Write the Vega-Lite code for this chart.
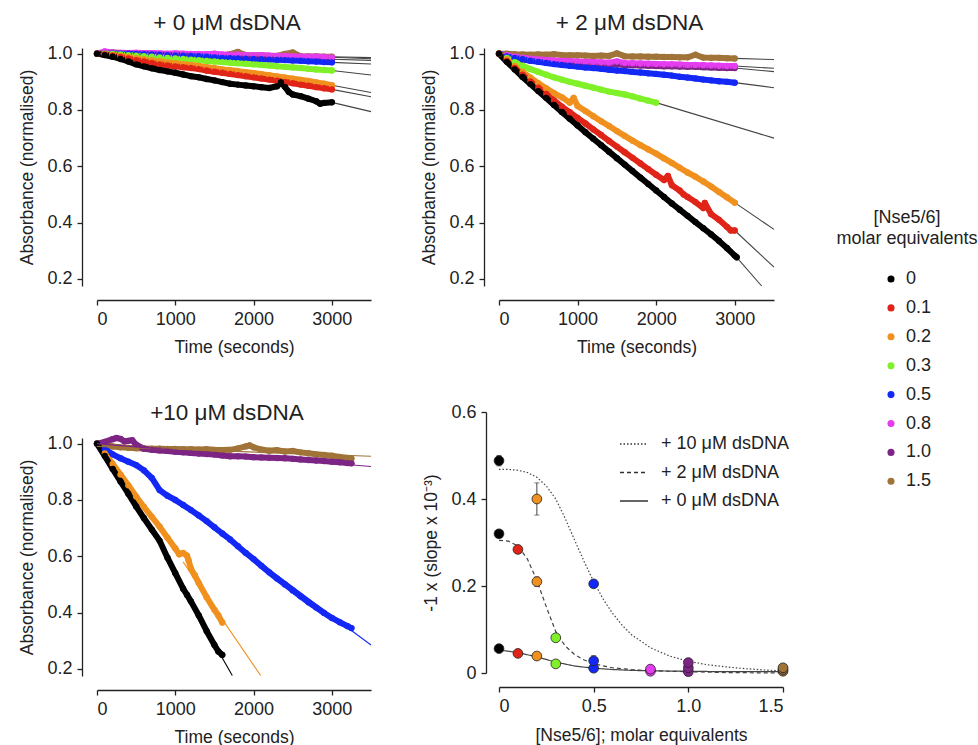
{
"$schema": "https://vega.github.io/schema/vega-lite/v6.json",
"background": "white",
"padding": {"left": 18, "top": 12, "right": 180, "bottom": 0},
"config": {
  "font": "Liberation Sans",
  "view": {"stroke": null},
  "axis": {"grid": false, "domainColor": "#222", "domainWidth": 1.3, "tickColor": "#222", "tickWidth": 1.3, "tickSize": 5, "labelFontSize": 18, "labelColor": "#222", "titleFontSize": 17.5, "titleFontWeight": "normal", "titleColor": "#222", "labelPadding": 5},
  "title": {"fontSize": 22.5, "fontWeight": "normal", "color": "#222", "anchor": "middle", "frame": "group", "offset": 10, "dx": -7},
  "legend": {"labelFontSize": 18, "labelColor": "#222", "titleColor": "#222"}
},
"datasets": {
"p1": [
{"c":"1.5","t":0,"v":1},{"c":"1.5","t":100,"v":1},{"c":"1.5","t":200,"v":1.004},{"c":"1.5","t":300,"v":1.002},{"c":"1.5","t":400,"v":1},{"c":"1.5","t":500,"v":1.001},{"c":"1.5","t":600,"v":0.999},{"c":"1.5","t":700,"v":0.998},{"c":"1.5","t":800,"v":0.998},{"c":"1.5","t":900,"v":0.997},{"c":"1.5","t":1000,"v":0.997},{"c":"1.5","t":1100,"v":0.996},{"c":"1.5","t":1200,"v":0.996},{"c":"1.5","t":1300,"v":0.995},{"c":"1.5","t":1400,"v":0.995},{"c":"1.5","t":1500,"v":0.994},{"c":"1.5","t":1600,"v":0.994},{"c":"1.5","t":1700,"v":0.998},{"c":"1.5","t":1800,"v":1.006},{"c":"1.5","t":1900,"v":0.995},{"c":"1.5","t":2000,"v":0.993},{"c":"1.5","t":2100,"v":0.993},{"c":"1.5","t":2200,"v":0.992},{"c":"1.5","t":2300,"v":0.992},{"c":"1.5","t":2400,"v":0.999},{"c":"1.5","t":2500,"v":1.004},{"c":"1.5","t":2600,"v":0.991},{"c":"1.5","t":2700,"v":0.99},{"c":"1.5","t":2800,"v":0.99},{"c":"1.5","t":2900,"v":0.989},{"c":"1.5","t":3000,"v":0.989},
{"c":"1.0","t":0,"v":1},{"c":"1.0","t":100,"v":1.002},{"c":"1.0","t":200,"v":1.002},{"c":"1.0","t":300,"v":1.001},{"c":"1.0","t":400,"v":1},{"c":"1.0","t":500,"v":0.999},{"c":"1.0","t":600,"v":0.998},{"c":"1.0","t":700,"v":0.997},{"c":"1.0","t":800,"v":0.996},{"c":"1.0","t":900,"v":0.995},{"c":"1.0","t":1000,"v":0.994},{"c":"1.0","t":1100,"v":0.993},{"c":"1.0","t":1200,"v":0.993},{"c":"1.0","t":1300,"v":0.992},{"c":"1.0","t":1400,"v":0.991},{"c":"1.0","t":1500,"v":0.99},{"c":"1.0","t":1600,"v":0.989},{"c":"1.0","t":1700,"v":0.989},{"c":"1.0","t":1800,"v":0.988},{"c":"1.0","t":1900,"v":0.987},{"c":"1.0","t":2000,"v":0.986},{"c":"1.0","t":2100,"v":0.986},{"c":"1.0","t":2200,"v":0.985},{"c":"1.0","t":2300,"v":0.984},{"c":"1.0","t":2400,"v":0.984},{"c":"1.0","t":2500,"v":0.983},{"c":"1.0","t":2600,"v":0.982},{"c":"1.0","t":2700,"v":0.982},{"c":"1.0","t":2800,"v":0.981},{"c":"1.0","t":2900,"v":0.98},{"c":"1.0","t":3000,"v":0.98},
{"c":"0.8","t":0,"v":1},{"c":"0.8","t":100,"v":1.008},{"c":"0.8","t":200,"v":1.004},{"c":"0.8","t":300,"v":1.003},{"c":"0.8","t":400,"v":1.002},{"c":"0.8","t":500,"v":1.003},{"c":"0.8","t":600,"v":1.002},{"c":"0.8","t":700,"v":1.002},{"c":"0.8","t":800,"v":1.001},{"c":"0.8","t":900,"v":1},{"c":"0.8","t":1000,"v":1.001},{"c":"0.8","t":1100,"v":1},{"c":"0.8","t":1200,"v":0.999},{"c":"0.8","t":1300,"v":0.999},{"c":"0.8","t":1400,"v":0.998},{"c":"0.8","t":1500,"v":1},{"c":"0.8","t":1600,"v":0.997},{"c":"0.8","t":1700,"v":0.996},{"c":"0.8","t":1800,"v":0.997},{"c":"0.8","t":1900,"v":0.995},{"c":"0.8","t":2000,"v":0.994},{"c":"0.8","t":2100,"v":0.995},{"c":"0.8","t":2200,"v":0.993},{"c":"0.8","t":2300,"v":0.992},{"c":"0.8","t":2400,"v":0.993},{"c":"0.8","t":2500,"v":0.991},{"c":"0.8","t":2600,"v":0.99},{"c":"0.8","t":2700,"v":0.989},{"c":"0.8","t":2800,"v":0.99},{"c":"0.8","t":2900,"v":0.988},{"c":"0.8","t":3000,"v":0.987},
{"c":"0.5","t":0,"v":1},{"c":"0.5","t":100,"v":1},{"c":"0.5","t":200,"v":1.001},{"c":"0.5","t":300,"v":1},{"c":"0.5","t":400,"v":1},{"c":"0.5","t":500,"v":0.999},{"c":"0.5","t":600,"v":0.998},{"c":"0.5","t":700,"v":0.997},{"c":"0.5","t":800,"v":0.996},{"c":"0.5","t":900,"v":0.995},{"c":"0.5","t":1000,"v":0.994},{"c":"0.5","t":1100,"v":0.993},{"c":"0.5","t":1200,"v":0.992},{"c":"0.5","t":1300,"v":0.991},{"c":"0.5","t":1400,"v":0.989},{"c":"0.5","t":1500,"v":0.987},{"c":"0.5","t":1600,"v":0.985},{"c":"0.5","t":1700,"v":0.984},{"c":"0.5","t":1800,"v":0.983},{"c":"0.5","t":1900,"v":0.982},{"c":"0.5","t":2000,"v":0.981},{"c":"0.5","t":2100,"v":0.98},{"c":"0.5","t":2200,"v":0.979},{"c":"0.5","t":2300,"v":0.978},{"c":"0.5","t":2400,"v":0.977},{"c":"0.5","t":2500,"v":0.976},{"c":"0.5","t":2600,"v":0.975},{"c":"0.5","t":2700,"v":0.973},{"c":"0.5","t":2800,"v":0.972},{"c":"0.5","t":2900,"v":0.97},{"c":"0.5","t":3000,"v":0.969},
{"c":"0.3","t":0,"v":1},{"c":"0.3","t":100,"v":1},{"c":"0.3","t":200,"v":0.999},{"c":"0.3","t":300,"v":0.997},{"c":"0.3","t":400,"v":0.995},{"c":"0.3","t":500,"v":0.993},{"c":"0.3","t":600,"v":0.991},{"c":"0.3","t":700,"v":0.989},{"c":"0.3","t":800,"v":0.987},{"c":"0.3","t":900,"v":0.985},{"c":"0.3","t":1000,"v":0.983},{"c":"0.3","t":1100,"v":0.981},{"c":"0.3","t":1200,"v":0.979},{"c":"0.3","t":1300,"v":0.977},{"c":"0.3","t":1400,"v":0.974},{"c":"0.3","t":1500,"v":0.972},{"c":"0.3","t":1600,"v":0.97},{"c":"0.3","t":1700,"v":0.968},{"c":"0.3","t":1800,"v":0.966},{"c":"0.3","t":1900,"v":0.964},{"c":"0.3","t":2000,"v":0.962},{"c":"0.3","t":2100,"v":0.96},{"c":"0.3","t":2200,"v":0.958},{"c":"0.3","t":2300,"v":0.955},{"c":"0.3","t":2400,"v":0.953},{"c":"0.3","t":2500,"v":0.951},{"c":"0.3","t":2600,"v":0.949},{"c":"0.3","t":2700,"v":0.946},{"c":"0.3","t":2800,"v":0.944},{"c":"0.3","t":2900,"v":0.942},{"c":"0.3","t":3000,"v":0.94},
{"c":"0.2","t":0,"v":1},{"c":"0.2","t":100,"v":0.998},{"c":"0.2","t":200,"v":0.995},{"c":"0.2","t":300,"v":0.992},{"c":"0.2","t":400,"v":0.988},{"c":"0.2","t":500,"v":0.984},{"c":"0.2","t":600,"v":0.98},{"c":"0.2","t":700,"v":0.977},{"c":"0.2","t":800,"v":0.973},{"c":"0.2","t":900,"v":0.969},{"c":"0.2","t":1000,"v":0.966},{"c":"0.2","t":1100,"v":0.963},{"c":"0.2","t":1200,"v":0.96},{"c":"0.2","t":1300,"v":0.956},{"c":"0.2","t":1400,"v":0.952},{"c":"0.2","t":1500,"v":0.948},{"c":"0.2","t":1600,"v":0.944},{"c":"0.2","t":1700,"v":0.941},{"c":"0.2","t":1800,"v":0.938},{"c":"0.2","t":1900,"v":0.934},{"c":"0.2","t":2000,"v":0.931},{"c":"0.2","t":2100,"v":0.927},{"c":"0.2","t":2200,"v":0.923},{"c":"0.2","t":2300,"v":0.919},{"c":"0.2","t":2400,"v":0.915},{"c":"0.2","t":2500,"v":0.911},{"c":"0.2","t":2600,"v":0.907},{"c":"0.2","t":2700,"v":0.903},{"c":"0.2","t":2800,"v":0.898},{"c":"0.2","t":2900,"v":0.893},{"c":"0.2","t":3000,"v":0.888},
{"c":"0.1","t":0,"v":1},{"c":"0.1","t":100,"v":0.997},{"c":"0.1","t":200,"v":0.993},{"c":"0.1","t":300,"v":0.988},{"c":"0.1","t":400,"v":0.983},{"c":"0.1","t":500,"v":0.977},{"c":"0.1","t":600,"v":0.972},{"c":"0.1","t":700,"v":0.967},{"c":"0.1","t":800,"v":0.962},{"c":"0.1","t":900,"v":0.958},{"c":"0.1","t":1000,"v":0.955},{"c":"0.1","t":1100,"v":0.952},{"c":"0.1","t":1200,"v":0.949},{"c":"0.1","t":1300,"v":0.945},{"c":"0.1","t":1400,"v":0.94},{"c":"0.1","t":1500,"v":0.936},{"c":"0.1","t":1600,"v":0.932},{"c":"0.1","t":1700,"v":0.928},{"c":"0.1","t":1800,"v":0.924},{"c":"0.1","t":1900,"v":0.92},{"c":"0.1","t":2000,"v":0.916},{"c":"0.1","t":2100,"v":0.912},{"c":"0.1","t":2200,"v":0.908},{"c":"0.1","t":2300,"v":0.904},{"c":"0.1","t":2400,"v":0.9},{"c":"0.1","t":2500,"v":0.895},{"c":"0.1","t":2600,"v":0.89},{"c":"0.1","t":2700,"v":0.886},{"c":"0.1","t":2800,"v":0.881},{"c":"0.1","t":2900,"v":0.877},{"c":"0.1","t":3000,"v":0.873},
{"c":"0","t":0,"v":1},{"c":"0","t":100,"v":0.995},{"c":"0","t":200,"v":0.989},{"c":"0","t":300,"v":0.981},{"c":"0","t":400,"v":0.972},{"c":"0","t":500,"v":0.962},{"c":"0","t":600,"v":0.955},{"c":"0","t":700,"v":0.948},{"c":"0","t":800,"v":0.942},{"c":"0","t":900,"v":0.937},{"c":"0","t":1000,"v":0.932},{"c":"0","t":1100,"v":0.926},{"c":"0","t":1200,"v":0.92},{"c":"0","t":1300,"v":0.916},{"c":"0","t":1400,"v":0.91},{"c":"0","t":1500,"v":0.905},{"c":"0","t":1600,"v":0.899},{"c":"0","t":1700,"v":0.893},{"c":"0","t":1800,"v":0.89},{"c":"0","t":1900,"v":0.887},{"c":"0","t":2000,"v":0.884},{"c":"0","t":2100,"v":0.881},{"c":"0","t":2200,"v":0.878},{"c":"0","t":2300,"v":0.884},{"c":"0","t":2350,"v":0.898},{"c":"0","t":2400,"v":0.882},{"c":"0","t":2450,"v":0.864},{"c":"0","t":2500,"v":0.855},{"c":"0","t":2600,"v":0.849},{"c":"0","t":2700,"v":0.84},{"c":"0","t":2800,"v":0.831},{"c":"0","t":2850,"v":0.822},{"c":"0","t":2900,"v":0.825},{"c":"0","t":3000,"v":0.827}
],
"f1": [
{"c":"1.5","t":3000,"v":0.989},{"c":"1.5","t":3500,"v":0.986},
{"c":"1.0","t":3000,"v":0.98},{"c":"1.0","t":3500,"v":0.976},
{"c":"0.8","t":3000,"v":0.987},{"c":"0.8","t":3500,"v":0.982},
{"c":"0.5","t":3000,"v":0.969},{"c":"0.5","t":3500,"v":0.963},
{"c":"0.3","t":3000,"v":0.94},{"c":"0.3","t":3500,"v":0.924},
{"c":"0.2","t":3000,"v":0.888},{"c":"0.2","t":3500,"v":0.862},
{"c":"0.1","t":3000,"v":0.873},{"c":"0.1","t":3500,"v":0.847},
{"c":"0","t":3000,"v":0.827},{"c":"0","t":3500,"v":0.794}
],
"p2": [
{"c":"1.5","t":0,"v":1},{"c":"1.5","t":100,"v":1},{"c":"1.5","t":200,"v":0.998},{"c":"1.5","t":300,"v":0.997},{"c":"1.5","t":400,"v":0.996},{"c":"1.5","t":500,"v":0.997},{"c":"1.5","t":600,"v":0.996},{"c":"1.5","t":700,"v":0.998},{"c":"1.5","t":800,"v":0.995},{"c":"1.5","t":900,"v":0.994},{"c":"1.5","t":1000,"v":0.994},{"c":"1.5","t":1100,"v":0.993},{"c":"1.5","t":1200,"v":0.992},{"c":"1.5","t":1300,"v":0.993},{"c":"1.5","t":1400,"v":0.992},{"c":"1.5","t":1500,"v":1.001},{"c":"1.5","t":1600,"v":0.991},{"c":"1.5","t":1700,"v":0.99},{"c":"1.5","t":1800,"v":0.99},{"c":"1.5","t":1900,"v":0.989},{"c":"1.5","t":2000,"v":0.989},{"c":"1.5","t":2100,"v":0.988},{"c":"1.5","t":2200,"v":0.988},{"c":"1.5","t":2300,"v":0.987},{"c":"1.5","t":2400,"v":0.987},{"c":"1.5","t":2500,"v":0.996},{"c":"1.5","t":2600,"v":0.986},{"c":"1.5","t":2700,"v":0.985},{"c":"1.5","t":2800,"v":0.985},{"c":"1.5","t":2900,"v":0.984},{"c":"1.5","t":3000,"v":0.983},
{"c":"1.0","t":0,"v":1},{"c":"1.0","t":100,"v":0.99},{"c":"1.0","t":200,"v":0.984},{"c":"1.0","t":300,"v":0.979},{"c":"1.0","t":400,"v":0.976},{"c":"1.0","t":500,"v":0.973},{"c":"1.0","t":600,"v":0.971},{"c":"1.0","t":700,"v":0.969},{"c":"1.0","t":800,"v":0.968},{"c":"1.0","t":900,"v":0.967},{"c":"1.0","t":1000,"v":0.965},{"c":"1.0","t":1100,"v":0.964},{"c":"1.0","t":1200,"v":0.963},{"c":"1.0","t":1300,"v":0.962},{"c":"1.0","t":1400,"v":0.961},{"c":"1.0","t":1500,"v":0.962},{"c":"1.0","t":1600,"v":0.96},{"c":"1.0","t":1700,"v":0.959},{"c":"1.0","t":1800,"v":0.958},{"c":"1.0","t":1900,"v":0.957},{"c":"1.0","t":2000,"v":0.956},{"c":"1.0","t":2100,"v":0.955},{"c":"1.0","t":2200,"v":0.955},{"c":"1.0","t":2300,"v":0.954},{"c":"1.0","t":2400,"v":0.953},{"c":"1.0","t":2500,"v":0.953},{"c":"1.0","t":2600,"v":0.952},{"c":"1.0","t":2700,"v":0.951},{"c":"1.0","t":2800,"v":0.95},{"c":"1.0","t":2900,"v":0.949},{"c":"1.0","t":3000,"v":0.949},
{"c":"0.8","t":0,"v":1},{"c":"0.8","t":100,"v":0.995},{"c":"0.8","t":200,"v":0.99},{"c":"0.8","t":300,"v":0.986},{"c":"0.8","t":400,"v":0.983},{"c":"0.8","t":500,"v":0.98},{"c":"0.8","t":600,"v":0.978},{"c":"0.8","t":700,"v":0.976},{"c":"0.8","t":800,"v":0.975},{"c":"0.8","t":900,"v":0.974},{"c":"0.8","t":1000,"v":0.972},{"c":"0.8","t":1100,"v":0.971},{"c":"0.8","t":1200,"v":0.97},{"c":"0.8","t":1300,"v":0.969},{"c":"0.8","t":1400,"v":0.968},{"c":"0.8","t":1500,"v":0.972},{"c":"0.8","t":1600,"v":0.967},{"c":"0.8","t":1700,"v":0.966},{"c":"0.8","t":1800,"v":0.965},{"c":"0.8","t":1900,"v":0.964},{"c":"0.8","t":2000,"v":0.963},{"c":"0.8","t":2100,"v":0.962},{"c":"0.8","t":2200,"v":0.962},{"c":"0.8","t":2300,"v":0.961},{"c":"0.8","t":2400,"v":0.96},{"c":"0.8","t":2500,"v":0.96},{"c":"0.8","t":2600,"v":0.959},{"c":"0.8","t":2700,"v":0.958},{"c":"0.8","t":2800,"v":0.957},{"c":"0.8","t":2900,"v":0.956},{"c":"0.8","t":3000,"v":0.956},
{"c":"0.5","t":0,"v":1},{"c":"0.5","t":100,"v":0.99},{"c":"0.5","t":200,"v":0.985},{"c":"0.5","t":300,"v":0.98},{"c":"0.5","t":400,"v":0.975},{"c":"0.5","t":500,"v":0.971},{"c":"0.5","t":600,"v":0.967},{"c":"0.5","t":700,"v":0.963},{"c":"0.5","t":800,"v":0.96},{"c":"0.5","t":900,"v":0.957},{"c":"0.5","t":1000,"v":0.954},{"c":"0.5","t":1100,"v":0.951},{"c":"0.5","t":1200,"v":0.949},{"c":"0.5","t":1300,"v":0.946},{"c":"0.5","t":1400,"v":0.943},{"c":"0.5","t":1500,"v":0.94},{"c":"0.5","t":1600,"v":0.938},{"c":"0.5","t":1700,"v":0.935},{"c":"0.5","t":1800,"v":0.933},{"c":"0.5","t":1900,"v":0.93},{"c":"0.5","t":2000,"v":0.928},{"c":"0.5","t":2100,"v":0.925},{"c":"0.5","t":2200,"v":0.922},{"c":"0.5","t":2300,"v":0.918},{"c":"0.5","t":2400,"v":0.915},{"c":"0.5","t":2500,"v":0.912},{"c":"0.5","t":2600,"v":0.908},{"c":"0.5","t":2700,"v":0.905},{"c":"0.5","t":2800,"v":0.902},{"c":"0.5","t":2900,"v":0.9},{"c":"0.5","t":3000,"v":0.897},
{"c":"0.3","t":0,"v":1},{"c":"0.3","t":100,"v":0.985},{"c":"0.3","t":200,"v":0.97},{"c":"0.3","t":300,"v":0.957},{"c":"0.3","t":400,"v":0.945},{"c":"0.3","t":500,"v":0.935},{"c":"0.3","t":600,"v":0.925},{"c":"0.3","t":700,"v":0.916},{"c":"0.3","t":800,"v":0.908},{"c":"0.3","t":900,"v":0.9},{"c":"0.3","t":1000,"v":0.893},{"c":"0.3","t":1100,"v":0.886},{"c":"0.3","t":1200,"v":0.879},{"c":"0.3","t":1300,"v":0.872},{"c":"0.3","t":1400,"v":0.865},{"c":"0.3","t":1500,"v":0.86},{"c":"0.3","t":1600,"v":0.855},{"c":"0.3","t":1700,"v":0.848},{"c":"0.3","t":1800,"v":0.84},{"c":"0.3","t":1900,"v":0.833},{"c":"0.3","t":2000,"v":0.826},
{"c":"0.2","t":0,"v":1},{"c":"0.2","t":100,"v":0.98},{"c":"0.2","t":200,"v":0.956},{"c":"0.2","t":300,"v":0.935},{"c":"0.2","t":400,"v":0.915},{"c":"0.2","t":500,"v":0.895},{"c":"0.2","t":600,"v":0.877},{"c":"0.2","t":700,"v":0.86},{"c":"0.2","t":800,"v":0.845},{"c":"0.2","t":900,"v":0.826},{"c":"0.2","t":950,"v":0.843},{"c":"0.2","t":1000,"v":0.814},{"c":"0.2","t":1100,"v":0.796},{"c":"0.2","t":1200,"v":0.778},{"c":"0.2","t":1300,"v":0.76},{"c":"0.2","t":1400,"v":0.743},{"c":"0.2","t":1500,"v":0.725},{"c":"0.2","t":1600,"v":0.708},{"c":"0.2","t":1700,"v":0.691},{"c":"0.2","t":1800,"v":0.675},{"c":"0.2","t":1900,"v":0.66},{"c":"0.2","t":2000,"v":0.645},{"c":"0.2","t":2100,"v":0.628},{"c":"0.2","t":2200,"v":0.612},{"c":"0.2","t":2300,"v":0.595},{"c":"0.2","t":2400,"v":0.578},{"c":"0.2","t":2500,"v":0.563},{"c":"0.2","t":2600,"v":0.546},{"c":"0.2","t":2700,"v":0.528},{"c":"0.2","t":2800,"v":0.509},{"c":"0.2","t":2900,"v":0.49},{"c":"0.2","t":3000,"v":0.471},
{"c":"0.1","t":0,"v":1},{"c":"0.1","t":100,"v":0.974},{"c":"0.1","t":200,"v":0.949},{"c":"0.1","t":300,"v":0.925},{"c":"0.1","t":400,"v":0.901},{"c":"0.1","t":500,"v":0.879},{"c":"0.1","t":600,"v":0.857},{"c":"0.1","t":700,"v":0.834},{"c":"0.1","t":800,"v":0.812},{"c":"0.1","t":900,"v":0.792},{"c":"0.1","t":1000,"v":0.772},{"c":"0.1","t":1100,"v":0.752},{"c":"0.1","t":1200,"v":0.731},{"c":"0.1","t":1300,"v":0.711},{"c":"0.1","t":1400,"v":0.69},{"c":"0.1","t":1500,"v":0.67},{"c":"0.1","t":1600,"v":0.65},{"c":"0.1","t":1700,"v":0.63},{"c":"0.1","t":1800,"v":0.61},{"c":"0.1","t":1900,"v":0.59},{"c":"0.1","t":2000,"v":0.57},{"c":"0.1","t":2100,"v":0.551},{"c":"0.1","t":2150,"v":0.566},{"c":"0.1","t":2200,"v":0.533},{"c":"0.1","t":2300,"v":0.514},{"c":"0.1","t":2350,"v":0.5},{"c":"0.1","t":2400,"v":0.491},{"c":"0.1","t":2500,"v":0.473},{"c":"0.1","t":2600,"v":0.452},{"c":"0.1","t":2620,"v":0.47},{"c":"0.1","t":2700,"v":0.43},{"c":"0.1","t":2800,"v":0.41},{"c":"0.1","t":2900,"v":0.385},{"c":"0.1","t":2950,"v":0.372},{"c":"0.1","t":3000,"v":0.372},
{"c":"0","t":0,"v":1},{"c":"0","t":100,"v":0.971},{"c":"0","t":200,"v":0.944},{"c":"0","t":300,"v":0.917},{"c":"0","t":400,"v":0.892},{"c":"0","t":500,"v":0.867},{"c":"0","t":600,"v":0.843},{"c":"0","t":700,"v":0.818},{"c":"0","t":800,"v":0.793},{"c":"0","t":900,"v":0.769},{"c":"0","t":1000,"v":0.745},{"c":"0","t":1100,"v":0.721},{"c":"0","t":1200,"v":0.698},{"c":"0","t":1300,"v":0.675},{"c":"0","t":1400,"v":0.652},{"c":"0","t":1500,"v":0.629},{"c":"0","t":1600,"v":0.606},{"c":"0","t":1700,"v":0.583},{"c":"0","t":1800,"v":0.56},{"c":"0","t":1900,"v":0.537},{"c":"0","t":2000,"v":0.514},{"c":"0","t":2100,"v":0.491},{"c":"0","t":2200,"v":0.468},{"c":"0","t":2300,"v":0.446},{"c":"0","t":2400,"v":0.424},{"c":"0","t":2500,"v":0.402},{"c":"0","t":2600,"v":0.38},{"c":"0","t":2700,"v":0.358},{"c":"0","t":2800,"v":0.335},{"c":"0","t":2900,"v":0.31},{"c":"0","t":3000,"v":0.283},{"c":"0","t":3025,"v":0.277}
],
"f2": [
{"c":"1.5","t":3000,"v":0.983},{"c":"1.5","t":3500,"v":0.979},
{"c":"1.0","t":3000,"v":0.949},{"c":"1.0","t":3500,"v":0.936},
{"c":"0.8","t":3000,"v":0.956},{"c":"0.8","t":3500,"v":0.948},
{"c":"0.5","t":3000,"v":0.897},{"c":"0.5","t":3500,"v":0.879},
{"c":"0.3","t":2000,"v":0.826},{"c":"0.3","t":3500,"v":0.7},
{"c":"0.2","t":3000,"v":0.471},{"c":"0.2","t":3500,"v":0.376},
{"c":"0.1","t":3000,"v":0.372},{"c":"0.1","t":3500,"v":0.242},
{"c":"0","t":3025,"v":0.277},{"c":"0","t":3343,"v":0.175}
],
"p3": [
{"c":"1.5","t":0,"v":1},{"c":"1.5","t":100,"v":0.995},{"c":"1.5","t":200,"v":0.99},{"c":"1.5","t":300,"v":0.987},{"c":"1.5","t":400,"v":0.985},{"c":"1.5","t":500,"v":0.984},{"c":"1.5","t":600,"v":0.983},{"c":"1.5","t":700,"v":0.982},{"c":"1.5","t":800,"v":0.982},{"c":"1.5","t":900,"v":0.981},{"c":"1.5","t":1000,"v":0.981},{"c":"1.5","t":1100,"v":0.98},{"c":"1.5","t":1200,"v":0.98},{"c":"1.5","t":1300,"v":0.979},{"c":"1.5","t":1400,"v":0.98},{"c":"1.5","t":1500,"v":0.978},{"c":"1.5","t":1600,"v":0.977},{"c":"1.5","t":1700,"v":0.978},{"c":"1.5","t":1800,"v":0.983},{"c":"1.5","t":1900,"v":0.99},{"c":"1.5","t":1950,"v":0.994},{"c":"1.5","t":2000,"v":0.987},{"c":"1.5","t":2100,"v":0.979},{"c":"1.5","t":2200,"v":0.975},{"c":"1.5","t":2300,"v":0.977},{"c":"1.5","t":2400,"v":0.972},{"c":"1.5","t":2500,"v":0.974},{"c":"1.5","t":2600,"v":0.969},{"c":"1.5","t":2700,"v":0.966},{"c":"1.5","t":2800,"v":0.962},{"c":"1.5","t":2900,"v":0.96},{"c":"1.5","t":3000,"v":0.957},{"c":"1.5","t":3100,"v":0.953},{"c":"1.5","t":3200,"v":0.949},{"c":"1.5","t":3250,"v":0.947},
{"c":"1.0","t":0,"v":1},{"c":"1.0","t":100,"v":1.006},{"c":"1.0","t":200,"v":1.016},{"c":"1.0","t":250,"v":1.02},{"c":"1.0","t":300,"v":1.017},{"c":"1.0","t":350,"v":1.008},{"c":"1.0","t":400,"v":1.01},{"c":"1.0","t":450,"v":1.012},{"c":"1.0","t":500,"v":0.996},{"c":"1.0","t":600,"v":0.982},{"c":"1.0","t":700,"v":0.978},{"c":"1.0","t":800,"v":0.976},{"c":"1.0","t":900,"v":0.974},{"c":"1.0","t":1000,"v":0.971},{"c":"1.0","t":1100,"v":0.969},{"c":"1.0","t":1200,"v":0.967},{"c":"1.0","t":1300,"v":0.965},{"c":"1.0","t":1400,"v":0.963},{"c":"1.0","t":1500,"v":0.961},{"c":"1.0","t":1600,"v":0.958},{"c":"1.0","t":1700,"v":0.955},{"c":"1.0","t":1800,"v":0.955},{"c":"1.0","t":1900,"v":0.954},{"c":"1.0","t":2000,"v":0.952},{"c":"1.0","t":2100,"v":0.951},{"c":"1.0","t":2200,"v":0.95},{"c":"1.0","t":2300,"v":0.949},{"c":"1.0","t":2400,"v":0.948},{"c":"1.0","t":2500,"v":0.946},{"c":"1.0","t":2600,"v":0.944},{"c":"1.0","t":2700,"v":0.942},{"c":"1.0","t":2800,"v":0.94},{"c":"1.0","t":2900,"v":0.938},{"c":"1.0","t":3000,"v":0.936},{"c":"1.0","t":3100,"v":0.934},{"c":"1.0","t":3200,"v":0.931},{"c":"1.0","t":3250,"v":0.93},
{"c":"0.5","t":0,"v":1},{"c":"0.5","t":100,"v":0.98},{"c":"0.5","t":200,"v":0.962},{"c":"0.5","t":300,"v":0.948},{"c":"0.5","t":400,"v":0.936},{"c":"0.5","t":500,"v":0.924},{"c":"0.5","t":600,"v":0.905},{"c":"0.5","t":700,"v":0.878},{"c":"0.5","t":800,"v":0.835},{"c":"0.5","t":900,"v":0.815},{"c":"0.5","t":1000,"v":0.8},{"c":"0.5","t":1100,"v":0.782},{"c":"0.5","t":1200,"v":0.764},{"c":"0.5","t":1300,"v":0.745},{"c":"0.5","t":1400,"v":0.725},{"c":"0.5","t":1500,"v":0.703},{"c":"0.5","t":1600,"v":0.681},{"c":"0.5","t":1700,"v":0.66},{"c":"0.5","t":1800,"v":0.636},{"c":"0.5","t":1900,"v":0.612},{"c":"0.5","t":2000,"v":0.59},{"c":"0.5","t":2100,"v":0.566},{"c":"0.5","t":2200,"v":0.543},{"c":"0.5","t":2300,"v":0.521},{"c":"0.5","t":2400,"v":0.5},{"c":"0.5","t":2500,"v":0.479},{"c":"0.5","t":2600,"v":0.458},{"c":"0.5","t":2700,"v":0.437},{"c":"0.5","t":2800,"v":0.418},{"c":"0.5","t":2900,"v":0.399},{"c":"0.5","t":3000,"v":0.381},{"c":"0.5","t":3100,"v":0.366},{"c":"0.5","t":3200,"v":0.352},{"c":"0.5","t":3250,"v":0.345},
{"c":"0.2","t":0,"v":1},{"c":"0.2","t":100,"v":0.965},{"c":"0.2","t":200,"v":0.928},{"c":"0.2","t":300,"v":0.89},{"c":"0.2","t":400,"v":0.852},{"c":"0.2","t":500,"v":0.812},{"c":"0.2","t":600,"v":0.775},{"c":"0.2","t":700,"v":0.74},{"c":"0.2","t":800,"v":0.705},{"c":"0.2","t":900,"v":0.666},{"c":"0.2","t":1000,"v":0.628},{"c":"0.2","t":1050,"v":0.607},{"c":"0.2","t":1100,"v":0.612},{"c":"0.2","t":1150,"v":0.602},{"c":"0.2","t":1170,"v":0.585},{"c":"0.2","t":1200,"v":0.556},{"c":"0.2","t":1250,"v":0.532},{"c":"0.2","t":1300,"v":0.505},{"c":"0.2","t":1400,"v":0.455},{"c":"0.2","t":1500,"v":0.41},{"c":"0.2","t":1550,"v":0.39},{"c":"0.2","t":1600,"v":0.365},
{"c":"0","t":0,"v":1},{"c":"0","t":100,"v":0.956},{"c":"0","t":200,"v":0.91},{"c":"0","t":300,"v":0.866},{"c":"0","t":400,"v":0.822},{"c":"0","t":500,"v":0.777},{"c":"0","t":600,"v":0.735},{"c":"0","t":700,"v":0.695},{"c":"0","t":800,"v":0.655},{"c":"0","t":900,"v":0.595},{"c":"0","t":1000,"v":0.54},{"c":"0","t":1100,"v":0.485},{"c":"0","t":1150,"v":0.463},{"c":"0","t":1200,"v":0.44},{"c":"0","t":1300,"v":0.39},{"c":"0","t":1400,"v":0.335},{"c":"0","t":1500,"v":0.285},{"c":"0","t":1550,"v":0.262},{"c":"0","t":1600,"v":0.25}
],
"f3": [
{"c":"1.5","t":0,"v":0.99},{"c":"1.5","t":3500,"v":0.955},
{"c":"1.0","t":0,"v":1},{"c":"1.0","t":3500,"v":0.919},
{"c":"0.5","t":1000,"v":0.8},{"c":"0.5","t":3500,"v":0.285},
{"c":"0.2","t":1100,"v":0.58},{"c":"0.2","t":2090,"v":0.177},
{"c":"0","t":1300,"v":0.385},{"c":"0","t":1728,"v":0.177}
],
"c4": [
{"g":"+ 10 μM dsDNA","x":0,"y":0.468},{"g":"+ 10 μM dsDNA","x":0.05,"y":0.468},{"g":"+ 10 μM dsDNA","x":0.1,"y":0.466},{"g":"+ 10 μM dsDNA","x":0.15,"y":0.461},{"g":"+ 10 μM dsDNA","x":0.2,"y":0.45},{"g":"+ 10 μM dsDNA","x":0.25,"y":0.43},{"g":"+ 10 μM dsDNA","x":0.3,"y":0.4},{"g":"+ 10 μM dsDNA","x":0.35,"y":0.355},{"g":"+ 10 μM dsDNA","x":0.4,"y":0.305},{"g":"+ 10 μM dsDNA","x":0.45,"y":0.256},{"g":"+ 10 μM dsDNA","x":0.5,"y":0.21},{"g":"+ 10 μM dsDNA","x":0.55,"y":0.17},{"g":"+ 10 μM dsDNA","x":0.6,"y":0.137},{"g":"+ 10 μM dsDNA","x":0.65,"y":0.11},{"g":"+ 10 μM dsDNA","x":0.7,"y":0.088},{"g":"+ 10 μM dsDNA","x":0.8,"y":0.058},{"g":"+ 10 μM dsDNA","x":0.9,"y":0.039},{"g":"+ 10 μM dsDNA","x":1.0,"y":0.027},{"g":"+ 10 μM dsDNA","x":1.1,"y":0.019},{"g":"+ 10 μM dsDNA","x":1.2,"y":0.014},{"g":"+ 10 μM dsDNA","x":1.3,"y":0.01},{"g":"+ 10 μM dsDNA","x":1.4,"y":0.007},{"g":"+ 10 μM dsDNA","x":1.5,"y":0.005},
{"g":"+ 2 μM dsDNA","x":0,"y":0.305},{"g":"+ 2 μM dsDNA","x":0.05,"y":0.303},{"g":"+ 2 μM dsDNA","x":0.1,"y":0.292},{"g":"+ 2 μM dsDNA","x":0.15,"y":0.262},{"g":"+ 2 μM dsDNA","x":0.2,"y":0.213},{"g":"+ 2 μM dsDNA","x":0.25,"y":0.152},{"g":"+ 2 μM dsDNA","x":0.3,"y":0.095},{"g":"+ 2 μM dsDNA","x":0.35,"y":0.062},{"g":"+ 2 μM dsDNA","x":0.4,"y":0.042},{"g":"+ 2 μM dsDNA","x":0.45,"y":0.03},{"g":"+ 2 μM dsDNA","x":0.5,"y":0.021},{"g":"+ 2 μM dsDNA","x":0.6,"y":0.012},{"g":"+ 2 μM dsDNA","x":0.7,"y":0.008},{"g":"+ 2 μM dsDNA","x":0.8,"y":0.005},{"g":"+ 2 μM dsDNA","x":1.0,"y":0.003},{"g":"+ 2 μM dsDNA","x":1.2,"y":0.001},{"g":"+ 2 μM dsDNA","x":1.5,"y":0},
{"g":"+ 0 μM dsDNA","x":0,"y":0.053},{"g":"+ 0 μM dsDNA","x":0.1,"y":0.047},{"g":"+ 0 μM dsDNA","x":0.2,"y":0.037},{"g":"+ 0 μM dsDNA","x":0.3,"y":0.025},{"g":"+ 0 μM dsDNA","x":0.4,"y":0.016},{"g":"+ 0 μM dsDNA","x":0.5,"y":0.011},{"g":"+ 0 μM dsDNA","x":0.6,"y":0.008},{"g":"+ 0 μM dsDNA","x":0.7,"y":0.006},{"g":"+ 0 μM dsDNA","x":0.8,"y":0.005},{"g":"+ 0 μM dsDNA","x":1.0,"y":0.004},{"g":"+ 0 μM dsDNA","x":1.2,"y":0.003},{"g":"+ 0 μM dsDNA","x":1.5,"y":0.003}
],
"e4": [
{"x":0,"lo":0.476,"hi":0.5},{"x":0.2,"lo":0.363,"hi":0.437},{"x":0.2,"lo":0.199,"hi":0.221},{"x":0.5,"lo":0.017,"hi":0.04}
],
"s4": [
{"x":0,"y":0.056,"c":"0"},{"x":0.1,"y":0.045,"c":"0.1"},{"x":0.2,"y":0.039,"c":"0.2"},{"x":0.3,"y":0.021,"c":"0.3"},{"x":0.5,"y":0.011,"c":"0.5"},{"x":0.8,"y":0.004,"c":"0.8"},{"x":1.0,"y":0.003,"c":"1.0"},{"x":1.5,"y":0.004,"c":"1.5"},
{"x":0,"y":0.32,"c":"0"},{"x":0.1,"y":0.284,"c":"0.1"},{"x":0.2,"y":0.21,"c":"0.2"},{"x":0.3,"y":0.081,"c":"0.3"},{"x":0.5,"y":0.028,"c":"0.5"},{"x":0.8,"y":0.009,"c":"0.8"},{"x":1.0,"y":0.012,"c":"1.0"},{"x":1.5,"y":0.008,"c":"1.5"},
{"x":0,"y":0.488,"c":"0"},{"x":0.2,"y":0.4,"c":"0.2"},{"x":0.5,"y":0.205,"c":"0.5"},{"x":1.0,"y":0.024,"c":"1.0"},{"x":1.5,"y":0.012,"c":"1.5"}
]
},
"hconcat": [
 {"vconcat": [
  {"width": 274, "height": 238, "title": "+ 0 μM dsDNA",
   "layer": [
    {"mark": {"type": "rule", "color": "#9a9a9a", "strokeDash": [1.5, 1.5], "strokeWidth": 1}, "encoding": {"y": {"datum": 1, "type": "quantitative"}}},
    {"data": {"name": "f1"}, "mark": {"type": "line", "color": "#444", "strokeWidth": 1.1},
     "encoding": {"x": {"field": "t", "type": "quantitative", "scale": {"domain": [0, 3500], "nice": false}, "axis": {"values": [0, 1000, 2000, 3000], "format": "d", "offset": 14, "title": "Time (seconds)", "titlePadding": 10}},
                  "y": {"field": "v", "type": "quantitative", "scale": {"domain": [0.175, 1.02], "nice": false, "zero": false}, "axis": {"values": [0.2, 0.4, 0.6, 0.8, 1.0], "format": ".1f", "offset": 15, "title": "Absorbance (normalised)", "titlePadding": 10}},
                  "detail": {"field": "c", "type": "nominal"}}},
    {"data": {"name": "p1"}, "mark": {"type": "line", "strokeWidth": 6, "strokeCap": "round", "strokeJoin": "round"},
     "encoding": {"x": {"field": "t", "type": "quantitative"}, "y": {"field": "v", "type": "quantitative"},
                  "stroke": {"field": "c", "type": "nominal", "scale": {"domain": ["1.5","1.0","0.8","0.5","0.3","0.2","0.1","0"], "range": ["#a07438","#7d2585","#e63cf0","#1428f5","#80f028","#f0901e","#e02418","#000000"]}, "legend": null}}},
    {"data": {"name": "p1"}, "mark": {"type": "circle", "size": 40, "opacity": 1},
     "encoding": {"x": {"field": "t", "type": "quantitative"}, "y": {"field": "v", "type": "quantitative"},
                  "color": {"field": "c", "type": "nominal", "scale": {"domain": ["0","0.1","0.2","0.3","0.5","0.8","1.0","1.5"], "range": ["#000000","#e02418","#f0901e","#80f028","#1428f5","#e63cf0","#7d2585","#a07438"]},
                            "legend": {"orient": "none", "legendX": 739, "legendY": 161, "title": ["[Nse5/6]", "molar equivalents"], "titleFontSize": 18, "titleFontWeight": "normal", "titleAlign": "center", "titleAnchor": "middle", "titleLineHeight": 21, "titlePadding": 22, "labelFontSize": 18, "symbolType": "circle", "symbolSize": 50, "symbolStrokeWidth": 0, "rowPadding": 10.9, "labelOffset": 6}}}},
    {"mark": {"type": "text", "text": "n=2", "align": "left", "baseline": "middle", "fontSize": 14, "color": "#222"}, "encoding": {"x": {"datum": 0, "type": "quantitative"}, "y": {"datum": 0.2, "type": "quantitative"}}}
   ]},
  {"width": 274, "height": 238, "title": "+10 μM dsDNA",
   "layer": [
    {"mark": {"type": "rule", "color": "#9a9a9a", "strokeDash": [1.5, 1.5], "strokeWidth": 1}, "encoding": {"y": {"datum": 1, "type": "quantitative"}}},
    {"data": {"name": "p3"}, "mark": {"type": "line", "strokeWidth": 6, "strokeCap": "round", "strokeJoin": "round"},
     "encoding": {"x": {"field": "t", "type": "quantitative", "scale": {"domain": [0, 3500], "nice": false}, "axis": {"values": [0, 1000, 2000, 3000], "format": "d", "offset": 14, "title": "Time (seconds)", "titlePadding": 10}},
                  "y": {"field": "v", "type": "quantitative", "scale": {"domain": [0.175, 1.02], "nice": false, "zero": false}, "axis": {"values": [0.2, 0.4, 0.6, 0.8, 1.0], "format": ".1f", "offset": 15, "title": "Absorbance (normalised)", "titlePadding": 10}},
                  "stroke": {"field": "c", "type": "nominal", "legend": null}}},
    {"data": {"name": "p3"}, "mark": {"type": "circle", "size": 40, "opacity": 1},
     "encoding": {"x": {"field": "t", "type": "quantitative"}, "y": {"field": "v", "type": "quantitative"},
                  "color": {"field": "c", "type": "nominal"}}},
    {"data": {"name": "f3"}, "mark": {"type": "line", "strokeWidth": 1.1},
     "encoding": {"x": {"field": "t", "type": "quantitative"}, "y": {"field": "v", "type": "quantitative"},
                  "stroke": {"field": "c", "type": "nominal", "legend": null}}},
    {"mark": {"type": "text", "text": "n=2", "align": "left", "baseline": "middle", "fontSize": 14, "color": "#222"}, "encoding": {"x": {"datum": 0, "type": "quantitative"}, "y": {"datum": 0.2, "type": "quantitative"}}}
   ]}
 ], "spacing": 46},
 {"vconcat": [
  {"width": 275, "height": 238, "title": "+ 2 μM dsDNA",
   "layer": [
    {"mark": {"type": "rule", "color": "#9a9a9a", "strokeDash": [1.5, 1.5], "strokeWidth": 1}, "encoding": {"y": {"datum": 1, "type": "quantitative"}}},
    {"data": {"name": "f2"}, "mark": {"type": "line", "color": "#444", "strokeWidth": 1.1},
     "encoding": {"x": {"field": "t", "type": "quantitative", "scale": {"domain": [0, 3500], "nice": false}, "axis": {"values": [0, 1000, 2000, 3000], "format": "d", "offset": 14, "title": "Time (seconds)", "titlePadding": 10}},
                  "y": {"field": "v", "type": "quantitative", "scale": {"domain": [0.175, 1.02], "nice": false, "zero": false}, "axis": {"values": [0.2, 0.4, 0.6, 0.8, 1.0], "format": ".1f", "offset": 15, "title": "Absorbance (normalised)", "titlePadding": 10}},
                  "detail": {"field": "c", "type": "nominal"}}},
    {"data": {"name": "p2"}, "mark": {"type": "line", "strokeWidth": 6, "strokeCap": "round", "strokeJoin": "round"},
     "encoding": {"x": {"field": "t", "type": "quantitative"}, "y": {"field": "v", "type": "quantitative"},
                  "stroke": {"field": "c", "type": "nominal", "legend": null}}},
    {"data": {"name": "p2"}, "mark": {"type": "circle", "size": 40, "opacity": 1},
     "encoding": {"x": {"field": "t", "type": "quantitative"}, "y": {"field": "v", "type": "quantitative"},
                  "color": {"field": "c", "type": "nominal"}}},
    {"mark": {"type": "text", "text": "n=2", "align": "left", "baseline": "middle", "fontSize": 14, "color": "#222"}, "encoding": {"x": {"datum": 0, "type": "quantitative"}, "y": {"datum": 0.2, "type": "quantitative"}}}
   ]},
  {"width": 284, "height": 261,
   "layer": [
    {"data": {"name": "c4"}, "mark": {"type": "line", "color": "#444", "strokeWidth": 1.2},
     "encoding": {"x": {"field": "x", "type": "quantitative", "scale": {"domain": [0, 1.5], "nice": false}, "title": "[Nse5/6]; molar equivalents", "axis": {"values": [0, 0.5, 1, 1.5], "labelExpr": "datum.value == 0 ? '0' : format(datum.value, '.1f')", "offset": 14, "titlePadding": 11}},
                  "y": {"field": "y", "type": "quantitative", "scale": {"domain": [0, 0.6], "nice": false}, "title": "-1 x (slope x 10⁻³)", "axis": {"values": [0, 0.2, 0.4, 0.6], "labelExpr": "datum.value == 0 ? '0' : format(datum.value, '.1f')", "offset": 13, "titlePadding": 10}},
                  "strokeDash": {"field": "g", "type": "nominal", "scale": {"domain": ["+ 10 μM dsDNA", "+ 2 μM dsDNA", "+ 0 μM dsDNA"], "range": [[1.5, 2], [4, 3], [1, 0]]},
                                 "legend": {"orient": "none", "legendX": 522, "legendY": 381, "title": null, "labelFontSize": 18, "symbolType": "stroke", "symbolSize": 784, "symbolStrokeWidth": 1.3, "symbolStrokeColor": "#333", "rowPadding": 4.5, "labelOffset": 12}}}},
    {"data": {"name": "e4"}, "mark": {"type": "errorbar", "ticks": true, "color": "#444"},
     "encoding": {"x": {"field": "x", "type": "quantitative", "title": "[Nse5/6]; molar equivalents"}, "y": {"field": "lo", "type": "quantitative", "title": "-1 x (slope x 10⁻³)"}, "y2": {"field": "hi"}}},
    {"data": {"name": "s4"}, "mark": {"type": "point", "filled": true, "size": 95, "opacity": 1, "stroke": "#222", "strokeWidth": 0.8},
     "encoding": {"x": {"field": "x", "type": "quantitative", "title": "[Nse5/6]; molar equivalents"}, "y": {"field": "y", "type": "quantitative", "title": "-1 x (slope x 10⁻³)"},
                  "color": {"field": "c", "type": "nominal"}}}
   ]}
 ], "spacing": 47}
],
"spacing": 46
}
